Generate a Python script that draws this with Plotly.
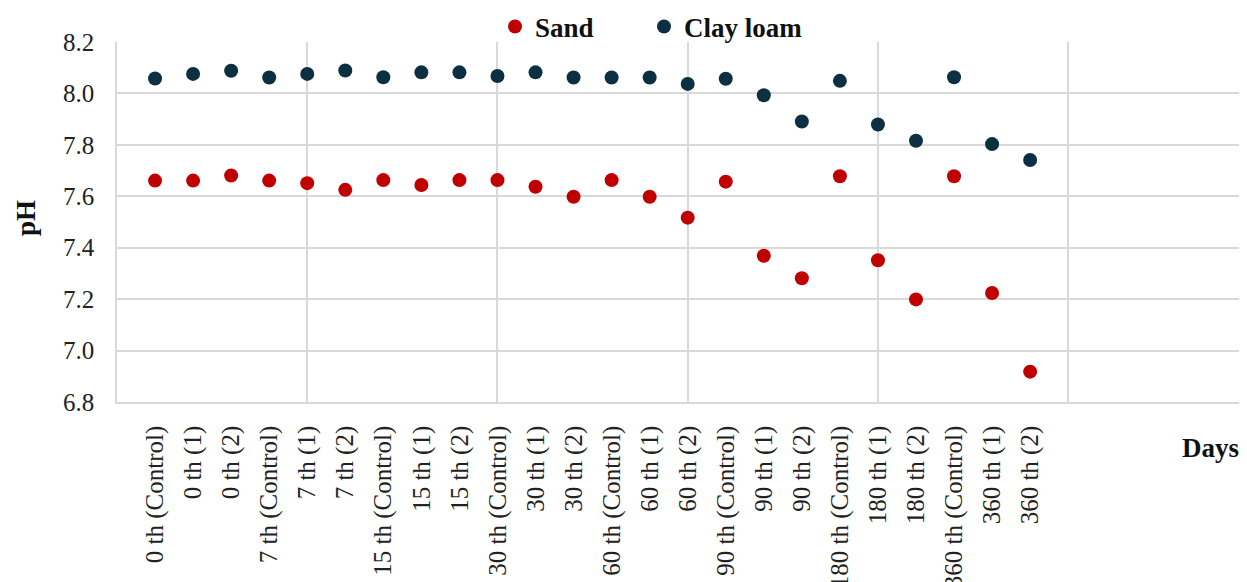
import plotly.graph_objects as go

categories = [
    "0 th (Control)", "0 th (1)", "0 th (2)",
    "7 th (Control)", "7 th (1)", "7 th (2)",
    "15 th (Control)", "15 th (1)", "15 th (2)",
    "30 th (Control)", "30 th (1)", "30 th (2)",
    "60 th (Control)", "60 th (1)", "60 th (2)",
    "90 th (Control)", "90 th (1)", "90 th (2)",
    "180 th (Control)", "180 th (1)", "180 th (2)",
    "360 th (Control)", "360 th (1)", "360 th (2)",
]

sand = [7.661, 7.661, 7.681, 7.661, 7.651, 7.625,
        7.663, 7.644, 7.663, 7.663, 7.637, 7.598,
        7.663, 7.598, 7.517, 7.657, 7.369, 7.281,
        7.678, 7.351, 7.199, 7.678, 7.224, 6.918]

clay_loam = [8.058, 8.076, 8.088, 8.062, 8.076, 8.089,
             8.063, 8.082, 8.082, 8.068, 8.082, 8.062,
             8.062, 8.062, 8.037, 8.057, 7.993, 7.891,
             8.049, 7.879, 7.816, 8.063, 7.803, 7.741]

positions = list(range(1, len(categories) + 1))

FONT = "Liberation Serif"
GRID = "#d9d9d9"
OFF = 8  # default page body margin
L, T, W, H = 117, 42, 1130, 360  # plot area in page pixels


def px_x(p):
    return (p - L) / W


def px_y(p):
    return (T + H - p) / H


FIG_W, FIG_H = 1247 - OFF, 582 - OFF

fig = go.Figure()
fig.add_trace(go.Scatter(x=positions, y=sand, mode="markers", name="Sand", legend="legend",
                         marker=dict(color="#C00000", size=14)))
fig.add_trace(go.Scatter(x=positions, y=clay_loam, mode="markers", name="Clay loam", legend="legend2",
                         marker=dict(color="#0D2F42", size=14)))

legend_common = dict(orientation="h", xref="paper", yref="container", xanchor="left",
                     y=1 - (27 - OFF) / FIG_H, yanchor="middle",
                     font=dict(family=FONT, size=27, color="#111111", weight="bold"),
                     bgcolor="rgba(0,0,0,0)")

fig.update_layout(
    width=FIG_W, height=FIG_H,
    margin=dict(l=L - OFF, r=0, t=T - OFF, b=FIG_H - (T - OFF) - H, autoexpand=False),
    plot_bgcolor="white", paper_bgcolor="white",
    font=dict(family=FONT, size=25, color="#222222"),
    showlegend=True,
    legend=dict(x=px_x(495), **legend_common),
    legend2=dict(x=px_x(644), **legend_common),
    xaxis=dict(range=[0, 29.7], tickmode="array", tickvals=positions, ticktext=categories,
               tickangle=-90, showgrid=False, zeroline=False, ticks="",
               ticklabelstandoff=12, tickfont=dict(family=FONT, size=25, color="#222222"),
               showline=True, linecolor=GRID, linewidth=1.5,
               minor=dict(tickmode="array", tickvals=[5, 10, 15, 20, 25], showgrid=True,
                          gridcolor=GRID, gridwidth=1.5, ticks="")),
    yaxis=dict(range=[6.8, 8.2], dtick=0.2, tick0=6.8, tickformat=".1f",
               showgrid=True, gridcolor=GRID, gridwidth=1.5, zeroline=False,
               showline=True, linecolor=GRID, linewidth=1.5, ticks="",
               ticklabelstandoff=16, tickfont=dict(family=FONT, size=25, color="#222222")),
    annotations=[
        dict(text="<b>pH</b>", xref="paper", yref="paper", x=px_x(26), y=px_y(218),
             showarrow=False, textangle=-90, font=dict(family=FONT, size=27, color="#111111"),
             xanchor="center", yanchor="middle"),
        dict(text="<b>Days</b>", xref="paper", yref="paper", x=px_x(1241), y=px_y(448),
             showarrow=False, font=dict(family=FONT, size=27, color="#111111"),
             xanchor="right", yanchor="middle"),
    ],
)

fig.write_html("out.html")
